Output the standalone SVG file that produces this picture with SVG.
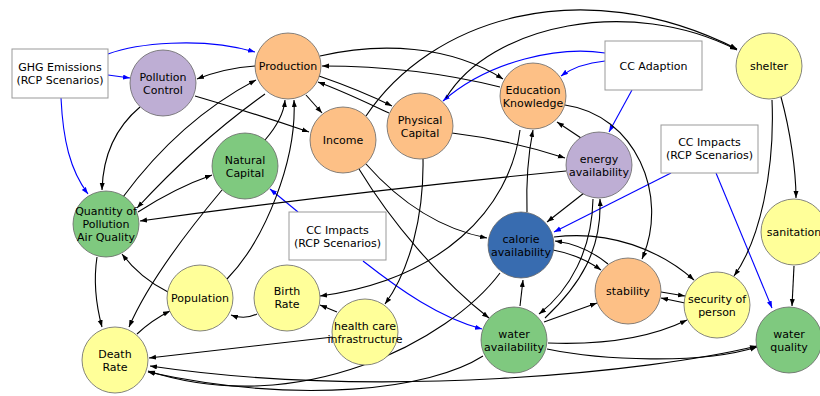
<svg xmlns="http://www.w3.org/2000/svg" width="820" height="396" viewBox="0 0 820 396">
<style>
  text { font-family: "DejaVu Sans", "Liberation Sans", sans-serif; font-size: 11px; fill: #000; text-anchor: middle; }
  .e { fill: none; stroke: #000; stroke-width: 1.1; marker-end: url(#ah); }
  .b { fill: none; stroke: #0000ff; stroke-width: 1.1; marker-end: url(#ahb); }
  .box { fill: #fff; stroke: #999; stroke-width: 1; }
  circle { stroke: #666; stroke-width: 0.8; }
  .or { fill: #fdc086; }
  .pu { fill: #beaed4; }
  .gr { fill: #7fc97f; }
  .ye { fill: #ffff99; }
  .bl { fill: #386cb0; }
</style>
<defs>
  <marker id="ah" markerUnits="userSpaceOnUse" markerWidth="8" markerHeight="6" refX="7" refY="2.5" orient="auto">
    <path d="M0,0 L7,2.5 L0,5 z" fill="#000"/>
  </marker>
  <marker id="ahs" markerUnits="userSpaceOnUse" markerWidth="8" markerHeight="6" refX="0" refY="2.5" orient="auto">
    <path d="M7,0 L0,2.5 L7,5 z" fill="#000"/>
  </marker>
  <marker id="ahb" markerUnits="userSpaceOnUse" markerWidth="8" markerHeight="6" refX="7" refY="2.5" orient="auto">
    <path d="M0,0 L7,2.5 L0,5 z" fill="#0000ff"/>
  </marker>
</defs>
<rect width="820" height="396" fill="#fff"/>

<g id="connectors">
  <!-- scenario / adaption drivers -->
  <path class="b" d="M108,54 C135,44 200,36 255,52"/>
  <path class="b" d="M108,75 L130,78"/>
  <path class="b" d="M61,98 C63,140 70,170 88,194"/>
  <path class="b" d="M605,53 C560,46 490,60 443,101"/>
  <path class="b" d="M605,61 C585,63 572,68 561,76"/>
  <path class="b" d="M632,90 L609,132"/>
  <path class="b" d="M671,173 L554,232"/>
  <path class="b" d="M716,173 L772,308"/>
  <path class="b" d="M298,212 L270,189"/>
  <path class="b" d="M363,261 C400,290 440,318 482,329"/>

  <!-- causal links -->
  <path class="e" d="M255,66 Q225,68 197,79"/>
  <path class="e" d="M320,56 C380,42 450,45 503,79"/>
  <path class="e" d="M500,87 C440,72 380,66 322,66"/>
  <path class="e" d="M319,76 C345,85 370,95 392,106"/>
  <path class="e" d="M389,113 C365,102 345,92 318,82"/>
  <path class="e" d="M306,95 L322,113"/>
  <path class="e" d="M366,116 C430,20 580,-30 737,49"/>
  <path class="e" d="M446,98 C490,25 630,-5 737,50"/>
  <path class="e" d="M195,96 Q250,112 309,132"/>
  <path class="e" d="M140,107 C115,128 103,155 102,190"/>
  <path class="e" d="M123,197 Q180,120 256,80"/>
  <path class="e" d="M265,94 Q200,140 137,208"/>
  <path class="e" d="M138,212 Q175,188 212,175"/>
  <path class="e" d="M265,140 C278,125 284,112 285,100"/>
  <path class="e" d="M227,279 C265,240 297,160 294,100"/>
  <path class="e" d="M168,292 Q140,278 122,254"/>
  <path class="e" d="M137,334 Q152,320 170,311"/>
  <path class="e" d="M97,257 Q92,290 102,327"/>
  <path class="e" d="M222,190 C180,240 145,290 129,327"/>
  <path class="e" d="M257,314 Q245,320 231,315"/>
  <path class="e" d="M337,312 L320,305"/>
  <path class="e" d="M333,337 C260,345 200,352 149,358"/>
  <path class="e" d="M423,159 C424,215 410,270 385,304"/>
  <path class="e" d="M366,164 Q420,225 487,238"/>
  <path class="e" d="M359,169 C390,220 440,280 489,318"/>
  <path class="e" d="M520,130 C510,210 440,280 320,296"/>
  <path class="e" d="M452,133 Q510,140 565,158"/>
  <path class="e" d="M566,171 Q350,192 140,221"/>
  <path class="e" d="M581,138 L557,122"/>
  <path class="e" d="M584,193 L547,222"/>
  <path class="e" d="M527,212 C526,180 528,155 533,130"/>
  <path class="e" d="M593,199 C592,250 570,290 539,314"/>
  <path class="e" d="M545,318 C580,285 602,250 600,199"/>
  <path class="e" d="M520,306 L523,280"/>
  <path class="e" d="M500,273 C450,340 300,420 148,371"/>
  <path class="e" d="M483,356 C430,390 300,405 148,372"/>
  <path class="e" d="M757,346 C650,372 380,400 150,366" marker-start="url(#ahs)"/>
  <path class="e" d="M547,349 C600,360 700,365 757,347"/>
  <path class="e" d="M544,322 L597,303"/>
  <path class="e" d="M548,343 C600,345 650,338 687,320"/>
  <path class="e" d="M553,250 Q580,255 601,270"/>
  <path class="e" d="M608,264 Q585,245 555,241"/>
  <path class="e" d="M554,237 C610,230 660,250 694,280"/>
  <path class="e" d="M661,292 L685,296"/>
  <path class="e" d="M685,303 L661,298"/>
  <path class="e" d="M565,105 C635,115 670,195 642,259"/>
  <path class="e" d="M772,100 C775,170 760,240 734,276"/>
  <path class="e" d="M781,97 C790,130 796,170 796,198"/>
  <path class="e" d="M794,266 L792,306"/>
</g>

<g id="ghg-emissions">
  <rect class="box" x="12" y="49" width="96" height="49"/>
  <text x="60" y="71">GHG Emissions</text>
  <text x="60" y="84">(RCP Scenarios)</text>
</g>
<g id="cc-adaption">
  <rect class="box" x="605" y="41" width="97" height="49"/>
  <text x="653.5" y="70">CC Adaption</text>
</g>
<g id="cc-impacts-east">
  <rect class="box" x="661" y="125" width="97" height="48"/>
  <text x="709.5" y="146">CC Impacts</text>
  <text x="709.5" y="159">(RCP Scenarios)</text>
</g>
<g id="cc-impacts-central">
  <rect class="box" x="289" y="212" width="97" height="48"/>
  <text x="337.5" y="234">CC Impacts</text>
  <text x="337.5" y="247">(RCP Scenarios)</text>
</g>

<g id="pollution-control"><circle class="pu" cx="163" cy="83" r="33"/><text x="163" y="81">Pollution</text><text x="163" y="94">Control</text></g>
<g id="production"><circle class="or" cx="288" cy="66" r="33"/><text x="288" y="70">Production</text></g>
<g id="natural-capital"><circle class="gr" cx="245" cy="166" r="33"/><text x="245" y="164">Natural</text><text x="245" y="177">Capital</text></g>
<g id="income"><circle class="or" cx="343" cy="140" r="33"/><text x="343" y="144">Income</text></g>
<g id="physical-capital"><circle class="or" cx="420" cy="126" r="33"/><text x="420" y="124">Physical</text><text x="420" y="137">Capital</text></g>
<g id="education-knowledge"><circle class="or" cx="533" cy="96" r="33"/><text x="533" y="94">Education</text><text x="533" y="107">Knowledge</text></g>
<g id="shelter"><circle class="ye" cx="769" cy="66" r="33"/><text x="769" y="70">shelter</text></g>
<g id="energy-availability"><circle class="pu" cx="599" cy="165" r="33"/><text x="599" y="163">energy</text><text x="599" y="176">availability</text></g>
<g id="air-quality"><circle class="gr" cx="106" cy="224" r="33"/><text x="106" y="215">Quantity of</text><text x="106" y="228">Pollution</text><text x="106" y="241">Air Quality</text></g>
<g id="calorie-availability"><circle class="bl" cx="521" cy="245" r="33"/><text x="521" y="243">calorie</text><text x="521" y="256">availability</text></g>
<g id="sanitation"><circle class="ye" cx="794" cy="232" r="33"/><text x="794" y="236">sanitation</text></g>
<g id="population"><circle class="ye" cx="200" cy="298" r="33"/><text x="200" y="302">Population</text></g>
<g id="birth-rate"><circle class="ye" cx="287" cy="298" r="33"/><text x="287" y="295">Birth</text><text x="287" y="308">Rate</text></g>
<g id="stability"><circle class="or" cx="628" cy="291" r="33"/><text x="628" y="295">stability</text></g>
<g id="security-of-person"><circle class="ye" cx="717" cy="305" r="33"/><text x="717" y="303">security of</text><text x="717" y="316">person</text></g>
<g id="health-care"><circle class="ye" cx="365" cy="332" r="33"/><text x="365" y="330">health care</text><text x="365" y="343">infrastructure</text></g>
<g id="water-availability"><circle class="gr" cx="514" cy="340" r="33"/><text x="514" y="338">water</text><text x="514" y="351">availability</text></g>
<g id="water-quality"><circle class="gr" cx="789" cy="340" r="33"/><text x="789" y="338">water</text><text x="789" y="351">quality</text></g>
<g id="death-rate"><circle class="ye" cx="115" cy="360" r="33"/><text x="115" y="358">Death</text><text x="115" y="371">Rate</text></g>
</svg>
